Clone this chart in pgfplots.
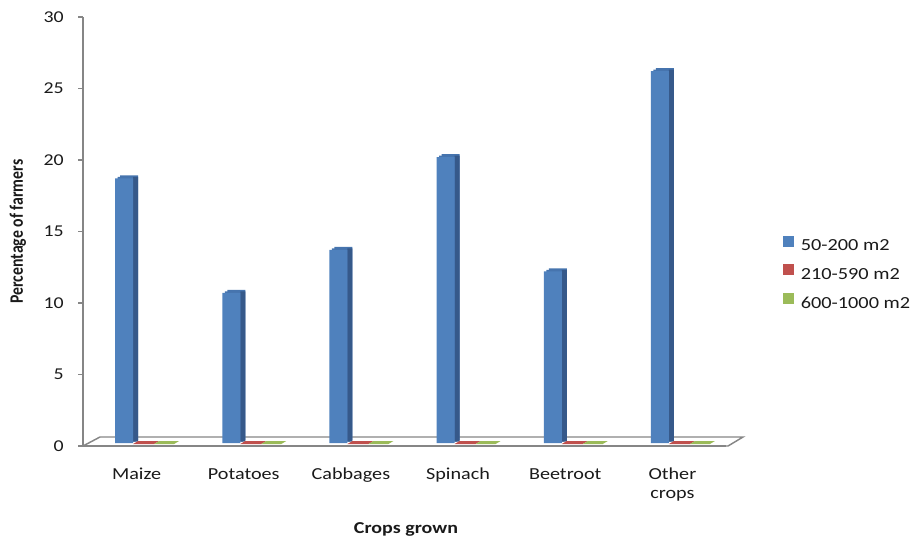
\documentclass[border=0pt]{standalone}
\usepackage{pgfplots}
\usepackage{pgfplotstable}
\usepackage{graphicx}
\usepackage{fontspec}
\pgfplotsset{compat=1.18}
\setmainfont{Carlito}
\newfontfamily\wide{Carlito}[FakeStretch=1.2]

\definecolor{barFront}{HTML}{4F81BD}
\definecolor{barSide}{HTML}{36598A}
\definecolor{barTop}{HTML}{4674AE}
\definecolor{slabR}{HTML}{C0504D}
\definecolor{slabG}{HTML}{9BBB59}
\definecolor{axisGray}{HTML}{868686}
\definecolor{txt}{HTML}{1A1A1A}

% flat floor slabs for zero-valued series (origin at the category centre)
\pgfdeclareplotmark{slabred}{%
  \pgfpathmoveto{\pgfqpoint{-2.625pt}{1.5pt}}%
  \pgfpathlineto{\pgfqpoint{13.125pt}{1.5pt}}%
  \pgfpathlineto{\pgfqpoint{16.875pt}{3.75pt}}%
  \pgfpathlineto{\pgfqpoint{1.125pt}{3.75pt}}%
  \pgfpathclose\pgfusepathqfill}
\pgfdeclareplotmark{slabgreen}{%
  \pgfpathmoveto{\pgfqpoint{13.125pt}{1.5pt}}%
  \pgfpathlineto{\pgfqpoint{28.125pt}{1.5pt}}%
  \pgfpathlineto{\pgfqpoint{31.875pt}{3.75pt}}%
  \pgfpathlineto{\pgfqpoint{16.875pt}{3.75pt}}%
  \pgfpathclose\pgfusepathqfill}

% percentage of farmers by plot size
\pgfplotstableread{
x small mid large
0 18.5 0 0
1 10.5 0 0
2 13.5 0 0
3 20   0 0
4 12   0 0
5 26   0 0
}\cropdata

\begin{document}
\begin{tikzpicture}
\path[use as bounding box] (0,0) rectangle (685.5pt,402.75pt);
\begin{axis}[
  at={(62.25pt,68.25pt)}, anchor=south west,
  scale only axis, width=482.25pt, height=321.75pt,
  xmin=-0.5, xmax=5.5, ymin=0, ymax=30,
  clip=false,
  axis x line*=bottom, axis y line*=left,
  axis line style={draw=axisGray, line width=1.1pt},
  tick align=outside, major tick length=3.75pt,
  xtick={0,...,5},
  xticklabels={Maize,Potatoes,Cabbages,Spinach,Beetroot,
    {\begin{tabular}[t]{@{}c@{}}Other\\crops\end{tabular}}},
  xtick style={draw=none},
  ytick={0,5,...,30},
  ytick style={draw=axisGray, line width=1pt},
  /pgf/number format/assume math mode=true,
  yticklabel style={font=\wide\fontsize{12.4}{14}\selectfont, text=txt,
    anchor=east, inner sep=0pt, xshift=-10.5pt},
  xticklabel style={font=\wide\fontsize{12.6}{14}\selectfont, text=txt,
    anchor=base, inner sep=0pt, yshift=-21.5pt},
  ylabel={\scalebox{1}[1.2]{Percentage of farmers}},
  ylabel style={at={(axis description cs:-0.1011,0.5)}, anchor=center,
    font=\bfseries\fontsize{11.85}{14}\selectfont, text=txt, inner sep=0pt},
  xlabel={Crops grown},
  xlabel style={at={(axis description cs:0.5023,-0.195)}, anchor=center,
    font=\wide\bfseries\fontsize{12.5}{14}\selectfont, text=txt, inner sep=0pt},
  legend style={at={(axis description cs:1.0886,0.4033)}, anchor=west,
    draw=none, fill=none, inner sep=0pt, row sep=9pt,
    font=\wide\fontsize{12.7}{14}\selectfont, text=txt,
    nodes={inner sep=0pt},
    /tikz/every odd column/.append style={column sep=5.25pt}},
  legend cell align=left,
]
% floor of the chart
\draw[axisGray, line width=1.1pt]
  (rel axis cs:0,0) -- ([shift={(12.75pt,6.75pt)}]rel axis cs:0,0)
  -- ([shift={(12.75pt,6.75pt)}]rel axis cs:1,0)
  -- ([shift={(1.5pt,0pt)}]rel axis cs:1,0) -- (rel axis cs:1,0);

% 210-590 m2 and 600-1000 m2 (all zero)
\addplot[only marks, mark=slabred, mark options={fill=slabR, draw=none}, forget plot]
  table[x=x, y=mid]{\cropdata};
\addplot[only marks, mark=slabgreen, mark options={fill=slabG, draw=none}, forget plot]
  table[x=x, y=large]{\cropdata};

% 50-200 m2: top (two depth steps), side and front of each column
\addplot[ybar, bar width=13.5pt, bar shift=-5.625pt, yshift=4.5pt,
  fill=barTop, draw=none, forget plot] table[x=x, y=small]{\cropdata};
\addplot[ybar, bar width=13.5pt, bar shift=-7.5pt, yshift=3.375pt,
  fill=barTop, draw=none, forget plot] table[x=x, y=small]{\cropdata};
\addplot[ybar, bar width=3.75pt, bar shift=-0.75pt, yshift=3.375pt,
  fill=barSide, draw=none, forget plot] table[x=x, y=small]{\cropdata};
\addplot[ybar, bar width=13.5pt, bar shift=-9.375pt, yshift=2.25pt,
  fill=barFront, draw=none, forget plot] table[x=x, y=small]{\cropdata};

\addlegendimage{legend image code/.code={\fill[barFront] (0pt,0pt) rectangle (7.5pt,7.5pt);}}
\addlegendentry{50-200 m2}
\addlegendimage{legend image code/.code={\fill[slabR] (0pt,0pt) rectangle (7.5pt,7.5pt);}}
\addlegendentry{210-590 m2}
\addlegendimage{legend image code/.code={\fill[slabG] (0pt,0pt) rectangle (7.5pt,7.5pt);}}
\addlegendentry{600-1000 m2}
\end{axis}
\end{tikzpicture}
\end{document}
